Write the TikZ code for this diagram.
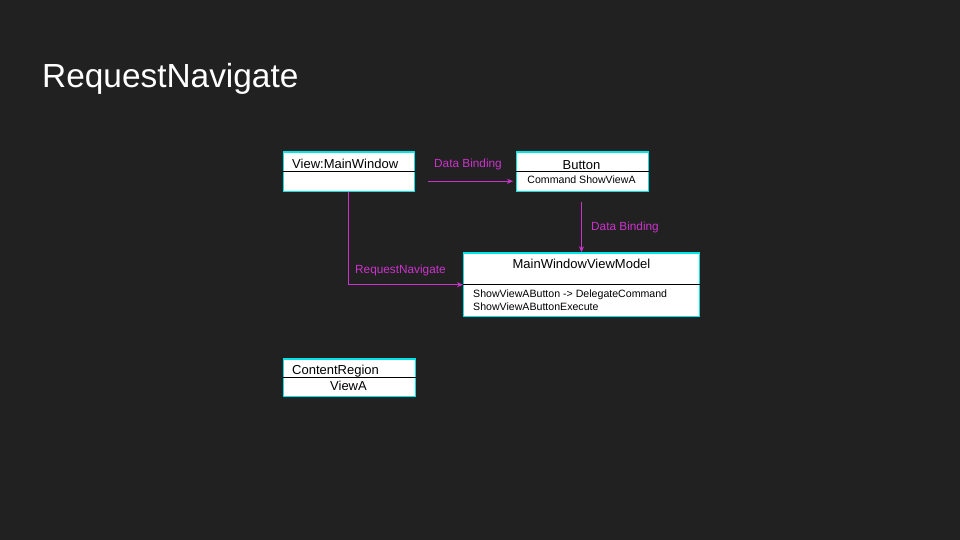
\documentclass[tikz,border=0pt]{standalone}
\usepackage{fontspec}
\setmainfont{Liberation Sans}
\usepackage{xcolor}
\usetikzlibrary{arrows.meta,positioning}
\definecolor{bgdark}{HTML}{212121}
\definecolor{boxcyan}{HTML}{00E5E5}
\definecolor{linkpink}{HTML}{CC33CC}

\begin{document}
\begin{tikzpicture}[x=1pt,y=-1pt,>={Stealth[length=6pt,width=5pt]},
  umlbox/.style={draw=boxcyan,fill=white,line width=1.3pt,inner sep=0pt,anchor=north west},
  divider/.style={draw=black,line width=0.7pt},
  boxtext/.style={text=black,inner sep=0pt,font=\fontsize{13}{15}\selectfont},
  smalltext/.style={text=black,inner sep=0pt,font=\fontsize{10.6}{12.5}\selectfont},
  link/.style={draw=linkpink,line width=1pt,->},
  linklabel/.style={text=linkpink,inner sep=0pt,anchor=base west,font=\fontsize{11.8}{14}\selectfont}]
  % background and page size
  \fill[bgdark] (0,0) rectangle (960,540);
  \useasboundingbox (0,0) rectangle (960,540);
  \node[text=white,inner sep=0pt,anchor=base west,font=\fontsize{33.4}{40}\selectfont] (title) at (42,88) {RequestNavigate};

  % boxes
  \node[umlbox,minimum width=131pt,minimum height=39pt] (mainwin) at (282.5,151.5) {};
  \draw[divider] ([yshift=-20pt]mainwin.north west) -- ([yshift=-20pt]mainwin.north east);
  \node[boxtext,anchor=base west] (mainwinname) at (292,168) {View:MainWindow};

  \node[umlbox,minimum width=132pt,minimum height=39pt] (button) at (515.5,151.5) {};
  \draw[divider] ([yshift=-20pt]button.north west) -- ([yshift=-20pt]button.north east);
  \node[boxtext,anchor=base] (buttonname) at (581.5,169.5) {Button};
  \node[smalltext,anchor=base] (buttoncmd) at (581.5,183) {Command ShowViewA};

  \node[umlbox,minimum width=236pt,minimum height=63.5pt] (vm) at (463,252.3) {};
  \draw[divider] ([yshift=-32pt]vm.north west) -- ([yshift=-32pt]vm.north east);
  \node[boxtext,anchor=base] (vmname) at (581.5,268.5) {MainWindowViewModel};
  \node[smalltext,anchor=base west] (vmcmd) at (473,297.5) {ShowViewAButton -> DelegateCommand};
  \node[smalltext,anchor=base west] (vmexec) at (473,310) {ShowViewAButtonExecute};

  \node[umlbox,minimum width=132pt,minimum height=37.5pt] (region) at (282.5,358.3) {};
  \draw[divider] ([yshift=-19pt]region.north west) -- ([yshift=-19pt]region.north east);
  \node[boxtext,anchor=base west] (regionname) at (292,374.3) {ContentRegion};
  \node[boxtext,anchor=base] (regionview) at (348.5,390.5) {ViewA};

  % connectors
  \coordinate (bindsrc) at (428,181.3);
  \draw[link,shorten >=2.5pt] (bindsrc) -- (button.west |- bindsrc);
  \node[linklabel] (bindlabel) at (434,167.5) {Data Binding};

  \coordinate (vmsrc) at (581.5,201.5);
  \draw[link] (vmsrc) -- (vmsrc |- vm.north);
  \node[linklabel] (vmbindlabel) at (591,230.5) {Data Binding};

  \draw[link] (mainwin.south) -- (mainwin.south |- vm.west) -- (vm.west);
  \node[linklabel] (navlabel) at (355,273.3) {RequestNavigate};
\end{tikzpicture}
\end{document}
